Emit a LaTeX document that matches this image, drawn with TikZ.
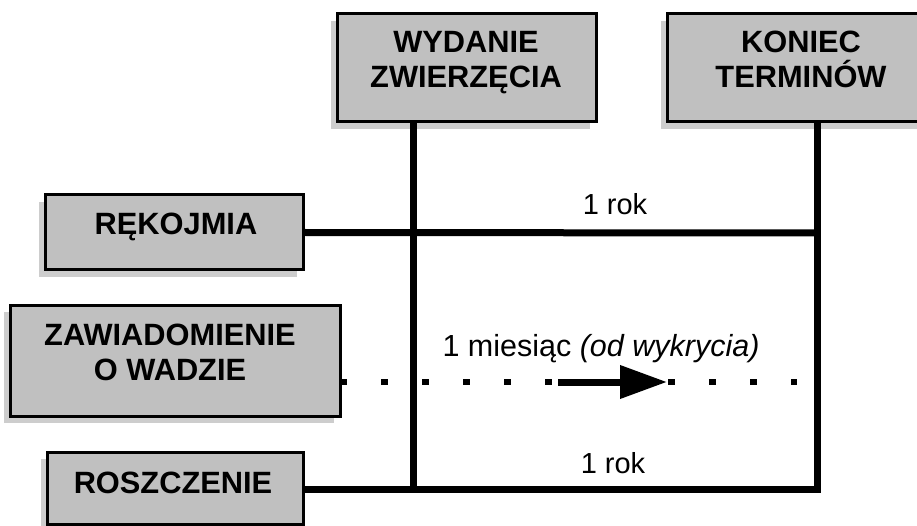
\documentclass[tikz,border=0pt]{standalone}
\usepackage{fontspec}
\setmainfont{Liberation Sans}
\usetikzlibrary{arrows.meta,shadows}
\definecolor{boxgray}{HTML}{C0C0C0}
\definecolor{shgray}{HTML}{CDCDCD}
\begin{document}
\begin{tikzpicture}[x=1pt,y=-1pt,
  box/.style={draw=black, line width=3pt, fill=boxgray, inner sep=0pt,
    general shadow={fill=shgray, shadow xshift=-6pt, shadow yshift=-7pt}},
  boxtext/.style={font=\fontsize{30.8}{35}\selectfont\bfseries, align=center, anchor=base, inner sep=0pt},
  lbl/.style={font=\fontsize{29}{35}\selectfont, anchor=base, inner sep=0pt},
  heavy/.style={line width=7pt},
  dotline/.style={line width=6.5pt, dash pattern=on 6.5pt off 34.5pt}
]
\useasboundingbox (0,0) rectangle (917,526);
\fill[white] (0,0) rectangle (917,526);

% boxes
\node[box, minimum width=259pt, minimum height=108pt] (wyd) at (466.5,68) {};
\node[box, minimum width=259pt, minimum height=108pt] (kon) at (796.5,68) {};
\node[box, minimum width=258pt, minimum height=75pt] (rek) at (174,232.5) {};
\node[box, minimum width=330pt, minimum height=111pt] (zaw) at (175,360.5) {};
\node[box, minimum width=256pt, minimum height=72pt] (ros) at (175,488) {};

% box texts (base = last line baseline)
\node[boxtext] (twyd) at (466,88) {WYDANIE\\ZWIERZĘCIA};
\node[boxtext] (tkon) at (801,88) {KONIEC\\TERMINÓW};
\node[boxtext] (trek) at (176,235) {RĘKOJMIA};
\node[boxtext] (tzaw) at (170,380) {ZAWIADOMIENIE\\O WADZIE};
\node[boxtext] (tros) at (173,493) {ROSZCZENIE};

% connector points
\coordinate (wtop) at (413,122);
\coordinate (wbot) at (413,492);
\coordinate (ktop) at (817,122);
\coordinate (kbot) at (817,492.5);
\coordinate (kmid) at (820.5,233);
\coordinate (kros) at (817,489);
\coordinate (d0) at (340,382);
\coordinate (d1) at (797,382);
\coordinate (a0) at (558,382);
\coordinate (a1) at (667,382);

% lines
\draw[heavy] (wtop) -- (wbot);
\draw[heavy] (ktop) -- (kbot);
\draw[heavy] (rek.east) -- (kmid);
\draw[heavy] (ros.east |- kros) -- (kros);
\draw[dotline] (d0) -- (d1);
\draw[heavy, -{Triangle[length=47pt, width=32pt]}] (a0) -- (a1);

% labels
\node[lbl] (l1) at (615,215) {1 rok};
\node[lbl] (l2) at (613,473) {1 rok};
\node[lbl, font=\fontsize{30.5}{35}\selectfont] (l3) at (601,356) {1 miesiąc \textit{(od wykrycia)}};
\end{tikzpicture}
\end{document}
